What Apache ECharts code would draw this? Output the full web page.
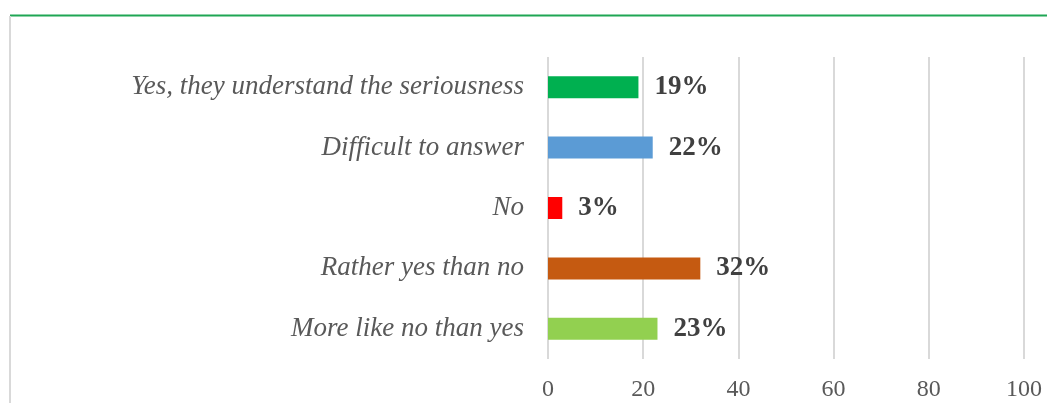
<!DOCTYPE html>
<html>
<head>
<meta charset="utf-8">
<script src="https://cdn.jsdelivr.net/npm/echarts@6/dist/echarts.min.js"></script>
<style>
  html, body { margin: 0; padding: 0; background: #fff; }
  #chart { width: 1047px; height: 403px; }
</style>
</head>
<body>
<div id="chart"></div>
<script>
// categories, top to bottom as in the picture
var categories = [
    'Yes, they understand the seriousness',
    'Difficult to answer',
    'No',
    'Rather yes than no',
    'More like no than yes'
];
var values = [19, 22, 3, 32, 23];
var barColors = ['#00B050', '#5B9BD5', '#FF0000', '#C55A11', '#92D050'];
var xTicks = [0, 20, 40, 60, 80, 100];

var serif = '"Liberation Serif", "DejaVu Serif", serif';

var chart = echarts.init(document.getElementById('chart'));

var option = {
    animation: false,
    graphic: [
        { // top rule
            type: 'line',
            shape: { x1: 10, y1: 15.5, x2: 1047, y2: 15.5 },
            style: { stroke: '#1FA654', lineWidth: 2 }
        },
        { // left frame line
            type: 'line',
            shape: { x1: 10, y1: 16, x2: 10, y2: 403 },
            style: { stroke: '#D9D9D9', lineWidth: 2 }
        }
    ],
    grid: { left: 548, right: 23, top: 57, bottom: 44 },
    xAxis: {
        type: 'value',
        min: xTicks[0],
        max: xTicks[xTicks.length - 1],
        interval: 20,
        axisLine: { show: false },
        axisTick: { show: false },
        splitLine: { lineStyle: { color: '#D9D9D9', width: 2 } },
        axisLabel: {
            margin: 19,
            fontFamily: serif,
            fontSize: 24,
            color: '#595959'
        }
    },
    yAxis: {
        type: 'category',
        inverse: true,
        data: categories,
        axisLine: { show: false },
        axisTick: { show: false },
        axisLabel: {
            margin: 24,
            fontFamily: serif,
            fontStyle: 'italic',
            fontSize: 27,
            color: '#595959'
        }
    },
    series: [{
        type: 'bar',
        barWidth: 22,
        data: values.map(function (v, i) {
            return { value: v, itemStyle: { color: barColors[i] } };
        }),
        label: {
            show: true,
            position: 'right',
            distance: 16,
            formatter: '{c}%',
            fontFamily: serif,
            fontWeight: 'bold',
            fontSize: 27,
            color: '#404040'
        }
    }]
};

chart.setOption(option);
</script>
</body>
</html>
